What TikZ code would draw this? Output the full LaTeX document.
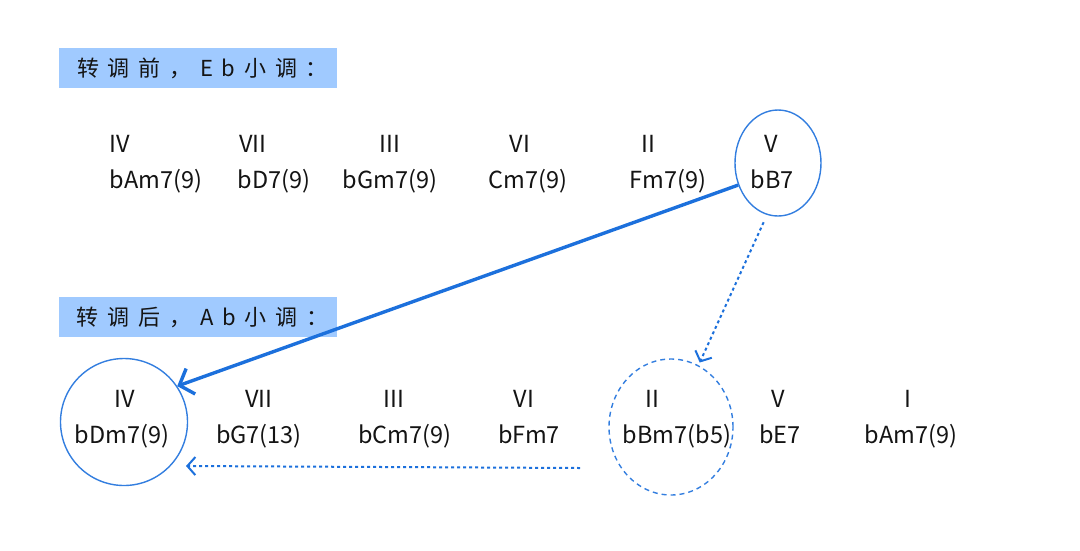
\documentclass[tikz,border=0pt]{standalone}
\usepackage{fontspec}
\setmainfont{Noto Sans CJK SC}
\newfontfamily\headfont[LetterSpace=40]{Noto Sans CJK SC}
\usetikzlibrary{positioning,arrows.meta,shapes.geometric}
\definecolor{keyblue}{RGB}{28,112,220}
\definecolor{headfill}{RGB}{160,202,255}
\definecolor{ink}{RGB}{20,20,20}

\begin{document}
\begin{tikzpicture}[
    x=1pt,y=-1pt,
    head/.style   ={fill=headfill,minimum width=278pt,minimum height=40pt,inner sep=0pt,
                    font=\headfont\fontsize{22}{24}\selectfont,text=ink},
    degree/.style ={font=\fontsize{23.5}{26}\selectfont,inner sep=0pt,anchor=base,text=ink},
    chord/.style  ={font=\fontsize{23.5}{26}\selectfont,inner sep=0pt,anchor=base,text=ink},
    ring/.style   ={ellipse,draw=keyblue!90,line width=1.4pt,inner sep=0pt},
    dashring/.style={ring,dash pattern=on 5pt off 4pt},
    jump/.style   ={-{Straight Barb[length=12pt,width=27pt]},keyblue,line width=3.4pt},
    hint/.style   ={-{Straight Barb[length=8pt,width=18pt]},keyblue,line width=2pt,
                    dash pattern=on 3pt off 3pt}
]
\useasboundingbox (0,0) rectangle (1080,550);

\node[head] (before) at (198,68)  {\hspace*{9pt}转调前，Eb小调：};
\node[head] (after)  at (198,317) {\hspace*{9pt}转调后，Ab小调：};

% Eb minor
\node[degree] (t4)  at (120,152) {IV};
\node[degree] (t7)  at (253,152) {VII};
\node[degree] (t3)  at (390,152) {III};
\node[degree] (t6)  at (520,152) {VI};
\node[degree] (t2)  at (648,152) {II};
\node[degree] (t5)  at (771,152) {V};
\node[chord]  (ct4) at (156,188) {bAm7(9)};
\node[chord]  (ct7) at (274,188) {bD7(9)};
\node[chord]  (ct3) at (390,188) {bGm7(9)};
\node[chord]  (ct6) at (528,188) {Cm7(9)};
\node[chord]  (ct2) at (668,188) {Fm7(9)};
\node[chord]  (ct5) at (772,188) {bB7};

% Ab minor
\node[degree] (b4)  at (125,407) {IV};
\node[degree] (b7)  at (259,407) {VII};
\node[degree] (b3)  at (394,407) {III};
\node[degree] (b6)  at (524,407) {VI};
\node[degree] (b2)  at (652,407) {II};
\node[degree] (b5)  at (778,407) {V};
\node[degree] (b1)  at (908,407) {I};
\node[chord]  (cb4) at (122,443) {bDm7(9)};
\node[chord]  (cb7) at (259,443) {bG7(13)};
\node[chord]  (cb3) at (405,443) {bCm7(9)};
\node[chord]  (cb6) at (529,443) {bFm7};
\node[chord]  (cb2) at (677,443) {bBm7(b5)};
\node[chord]  (cb5) at (780,443) {bE7};
\node[chord]  (cb1) at (911,443) {bAm7(9)};

\node[ring,minimum width=86pt,minimum height=106pt]      (vring)  at (778,163) {};
\node[ring,minimum width=127pt,minimum height=127pt]     (ivring) at (124,422) {};
\node[dashring,minimum width=124pt,minimum height=136pt] (iiring) at (671,427) {};

\coordinate (hintS) at (580,468);
\coordinate (hintE) at (186,466);

\draw[jump] (vring.209) -- (ivring.34);
\draw[hint,shorten <=8pt,shorten >=3pt] (vring.258) -- (iiring.66);
\draw[hint] (hintS) -- (hintE);

\end{tikzpicture}
\end{document}
